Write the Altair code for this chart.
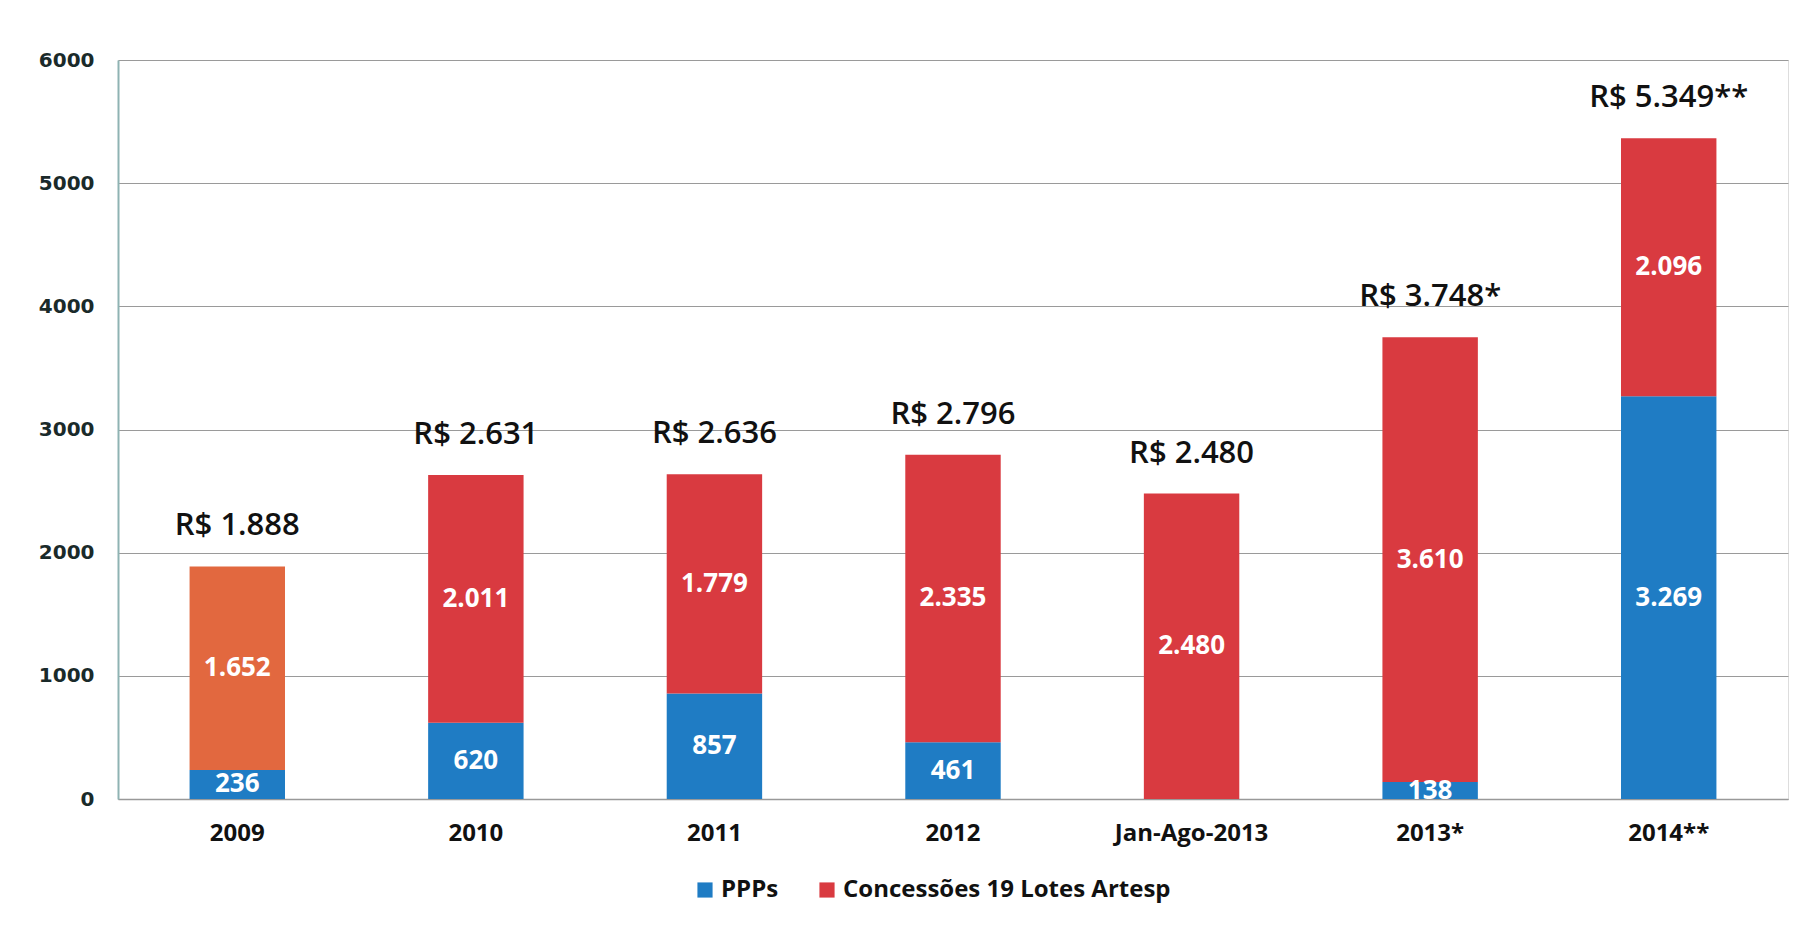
import altair as alt
import pandas as pd

years = ["2009", "2010", "2011", "2012", "Jan-Ago-2013", "2013*", "2014**"]
ppps = [236, 620, 857, 461, 0, 138, 3269]
conc = [1652, 2011, 1779, 2335, 2480, 3610, 2096]
totals = ["R$ 1.888", "R$ 2.631", "R$ 2.636", "R$ 2.796", "R$ 2.480", "R$ 3.748*", "R$ 5.349**"]
ppp_lbl = ["236", "620", "857", "461", "", "138", "3.269"]
conc_lbl = ["1.652", "2.011", "1.779", "2.335", "2.480", "3.610", "2.096"]
series = ["PPPs", "Concessões 19 Lotes Artesp"]
colors = ["#1F7CC4", "#D93A40"]

rows = []
for i, y in enumerate(years):
    rows.append({"year": y, "series": series[0], "value": ppps[i], "ord": 0, "lbl": ppp_lbl[i]})
    rows.append({"year": y, "series": series[1], "value": conc[i], "ord": 1, "lbl": conc_lbl[i]})
df = pd.DataFrame(rows)
tot = pd.DataFrame({"year": years, "total": [a + b for a, b in zip(ppps, conc)], "label": totals})

FONT = "Open Sans"
xenc = alt.X("year:N", sort=years, title=None,
             scale=alt.Scale(paddingInner=0.6, paddingOuter=0.3),
             axis=alt.Axis(labelAngle=0, labelFont=FONT, labelFontWeight="bold",
                           labelFontSize=24, labelColor="#111", labelPadding=22,
                           ticks=False, domainColor="#999", domainWidth=1.5))
yscale = alt.Scale(domain=[0, 6000])

bars = alt.Chart(df).mark_bar().encode(
    x=xenc,
    y=alt.Y("value:Q", stack="zero", scale=yscale, title=None,
            axis=alt.Axis(values=[0, 1000, 2000, 3000, 4000, 5000, 6000], format="d",
                          labelFont="DejaVu Sans", labelFontWeight="bold", labelFontSize=20,
                          labelColor="#1a2a2a", labelPadding=24, ticks=False,
                          domainColor="#8fb3b3", domainWidth=2,
                          gridColor="#9a9a9a", gridWidth=1.2)),
    color=alt.condition(
        "datum.year == '2009' && datum.ord == 1",
        alt.value("#E2683F"),
        alt.Color("series:N", sort=series,
                  scale=alt.Scale(domain=series, range=colors),
                  legend=alt.Legend(orient="none", legendX=575, legendY=818,
                                    direction="horizontal", title=None, labelLimit=0,
                                    labelFont=FONT, labelFontWeight="bold", labelFontSize=24,
                                    labelColor="#111", symbolType="square", symbolSize=230,
                                    symbolStrokeWidth=0, columnPadding=36))),
    order=alt.Order("ord:Q"),
)

seg = alt.Chart(df).transform_filter("datum.value > 0").transform_stack(
    stack="value", groupby=["year"], as_=["v0", "v1"], sort=[alt.SortField("ord")]
).transform_calculate(mid="(datum.v0 + datum.v1) / 2").mark_text(
    font=FONT, fontWeight="bold", fontSize=26, color="white", baseline="middle"
).encode(x=alt.X("year:N", sort=years), y=alt.Y("mid:Q", scale=yscale), text="lbl:N")

top = alt.Chart(tot).mark_text(
    font=FONT, fontWeight=600, fontSize=31, color="#111", baseline="bottom", dy=-24
).encode(x=alt.X("year:N", sort=years), y=alt.Y("total:Q", scale=yscale), text="label:N")

chart = (bars + seg + top).properties(
    width=1790, height=915,
    autosize=alt.AutoSizeParams(type="fit", contains="padding"),
    padding={"left": 30, "top": 42, "right": 10, "bottom": 78},
).configure_view(stroke=None).configure(background="white")

chart.save("out.html", embed_options={"renderer": "svg", "actions": False})
